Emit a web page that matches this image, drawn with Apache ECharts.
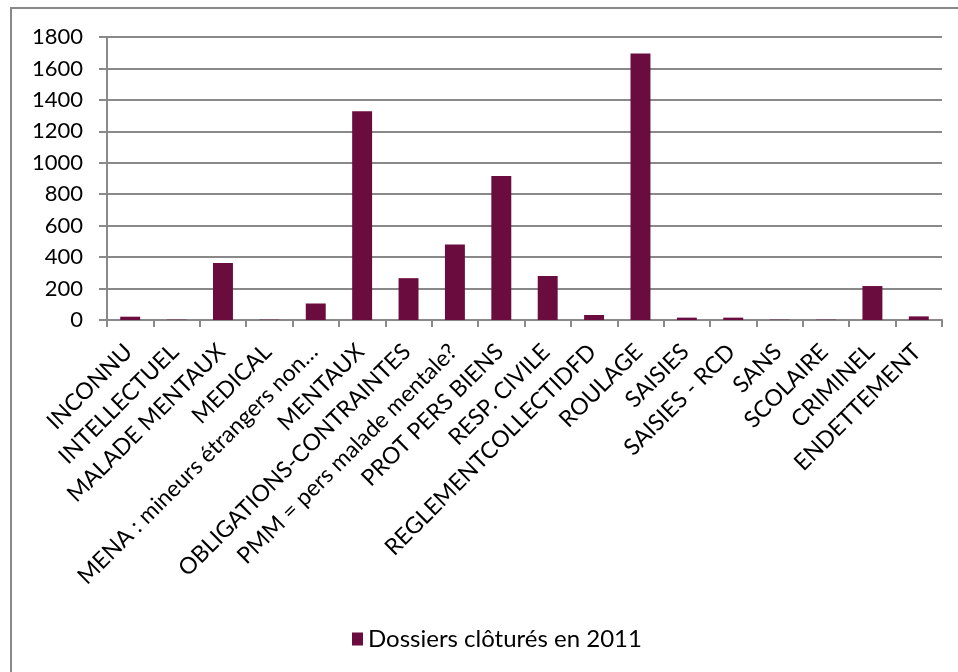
<!DOCTYPE html>
<html>
<head>
<meta charset="utf-8">
<script src="https://cdn.jsdelivr.net/npm/echarts@6/dist/echarts.min.js"></script>
<style>
html,body{margin:0;padding:0;background:#fff;}
#chart{width:958px;height:672px;}
</style>
</head>
<body>
<div id="chart"></div>
<script>
var categories = ['INCONNU','INTELLECTUEL','MALADE MENTAUX','MEDICAL','MENA : mineurs étrangers non…','MENTAUX','OBLIGATIONS-CONTRAINTES','PMM = pers malade mentale?','PROT PERS BIENS','RESP. CIVILE','REGLEMENTCOLLECTIDFD','ROULAGE','SAISIES','SAISIES - RCD','SANS','SCOLAIRE','CRIMINEL','ENDETTEMENT'];
var values = [21, 2, 362, 2, 105, 1327, 266, 480, 916, 280, 32, 1695, 15, 15, 2, 2, 216, 23];
var seriesName = 'Dossiers clôturés en 2011';
var yMin = 0, yMax = 1800, yStep = 200;

var FONT = 'Lato';
var GREY = '#898989';
var chart = echarts.init(document.getElementById('chart'));
chart.setOption({
  animation: false,
  backgroundColor: '#fff',
  textStyle: {fontFamily: FONT},
  graphic: [{
    type: 'rect',
    shape: {x: 11, y: 8, width: 1000, height: 700},
    style: {fill: 'none', stroke: GREY, lineWidth: 2},
    silent: true
  }],
  grid: {left: 107, right: 16, top: 37, bottom: 352, containLabel: false},
  legend: {
    data: [seriesName],
    left: 347,
    top: 622,
    icon: 'rect',
    itemWidth: 11,
    itemHeight: 13,
    itemGap: 6,
    textStyle: {fontFamily: FONT, fontSize: 24, color: '#000'}
  },
  xAxis: {
    type: 'category',
    data: categories,
    boundaryGap: true,
    axisLine: {lineStyle: {color: GREY, width: 2}},
    axisTick: {show: true, length: 7, lineStyle: {color: GREY, width: 2}},
    axisLabel: {
      rotate: 45, interval: 0, margin: 10, verticalAlign: 'top', align: 'right',
      padding: [0, 14, 0, 0],
      fontFamily: FONT, fontSize: 23, color: '#000'
    }
  },
  yAxis: {
    type: 'value',
    min: yMin, max: yMax, interval: yStep,
    axisLine: {show: true, lineStyle: {color: GREY, width: 2}},
    axisTick: {show: true, length: 8, lineStyle: {color: GREY, width: 2}},
    splitLine: {lineStyle: {color: GREY, width: 2}},
    axisLabel: {margin: 24, fontFamily: FONT, fontSize: 22, color: '#000',
      formatter: function (v) { return String(v); }}
  },
  series: [{
    name: seriesName,
    type: 'bar',
    data: values,
    barWidth: '43%',
    itemStyle: {color: '#6B0C3E'}
  }]
});
</script>
</body>
</html>
